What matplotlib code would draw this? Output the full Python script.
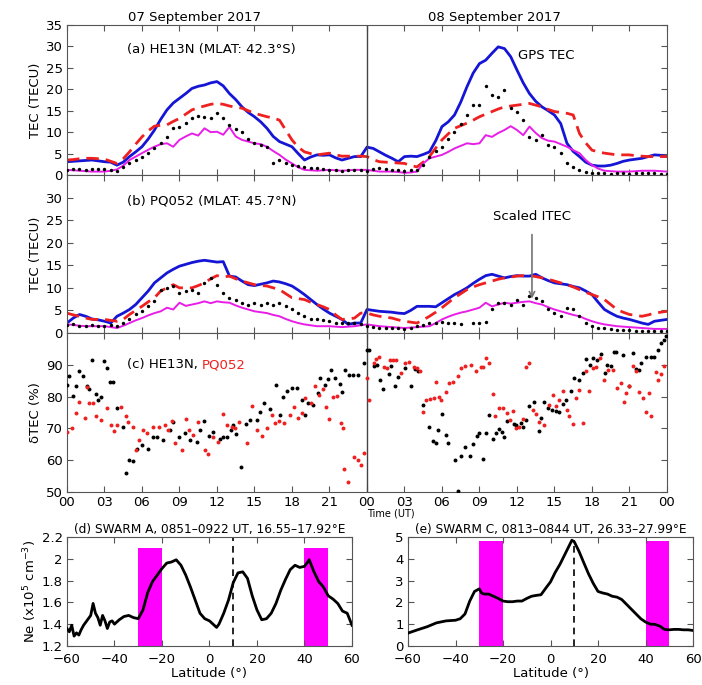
import matplotlib
matplotlib.use("Agg")
import matplotlib.pyplot as plt
import numpy as np

nan = np.nan

# time axis: two days, half-hour steps (hours since 00 UT, 07 Sep 2017)
HOURS = np.arange(0, 48.5, 0.5)
TICK_HOURS = list(range(0, 49, 3))
TICK_LABELS = ["00", "03", "06", "09", "12", "15", "18", "21",
               "00", "03", "06", "09", "12", "15", "18", "21", "00"]

# ---- panel (a): HE13N ----
A_GPS = [3.1, 3.2, 3.3, 3.4, 3.5, 3.3, 3.1, 3.0, 2.3, 3.0, 4.3, 5.4,
         6.6, 8.4, 10.5, 13.0, 15.2, 16.8, 17.9, 19.0, 20.2, 20.7, 21.0, 21.5,
         21.8, 20.8, 19.0, 17.6, 15.9, 14.6, 13.6, 12.4, 10.9, 9.0, 7.8, 7.2,
         6.6, 5.0, 3.5, 4.2, 4.7, 4.6, 4.7, 4.0, 3.5, 3.9, 4.3, 4.3,
         6.5, 6.2, 5.4, 4.6, 3.9, 3.1, 4.3, 4.4, 4.3, 4.8, 5.4, 8.0,
         11.3, 12.4, 14.0, 17.0, 20.6, 23.8, 26.0, 26.8, 28.4, 29.9, 29.5, 27.6,
         24.5, 21.5, 19.0, 17.2, 15.9, 15.0, 14.0, 12.0, 7.4, 5.5, 4.3, 3.0,
         2.3, 2.1, 2.1, 2.3, 2.7, 3.2, 3.5, 3.7, 3.9, 4.3, 4.7, 4.6, 4.3]
A_MODEL = [3.5, 3.6, 3.8, 3.9, 3.9, 3.8, 3.7, 3.2, 2.7, 3.8, 5.4, 7.2,
           8.9, 10.3, 11.4, 11.6, 11.7, 12.5, 13.2, 14.2, 15.2, 15.7, 16.1, 16.5,
           16.7, 16.5, 16.1, 15.8, 15.6, 15.0, 14.4, 14.0, 13.6, 13.3, 12.8, 10.5,
           8.2, 6.5, 5.4, 5.0, 4.7, 4.9, 5.1, 4.7, 4.4, 4.4, 4.4, 4.4,
           4.3, 3.6, 3.1, 3.0, 2.9, 2.8, 2.7, 2.2, 1.9, 3.0, 4.3, 6.3,
           8.2, 9.6, 10.9, 11.5, 12.1, 12.8, 13.6, 14.2, 14.8, 15.4, 15.9, 16.1,
           16.3, 16.5, 16.7, 16.3, 15.9, 15.3, 14.8, 14.6, 14.4, 14.0, 9.7, 7.5,
           5.8, 5.4, 5.1, 4.9, 4.7, 4.7, 4.7, 4.5, 4.4, 4.3, 4.3, 4.3, 4.3]
A_MAG = [1.2, 1.1, 1.0, 0.9, 0.8, 0.8, 0.8, 1.0, 1.3, 2.2, 3.5, 4.3,
         5.1, 5.9, 6.6, 7.2, 7.4, 6.6, 8.2, 9.0, 9.7, 9.2, 10.9, 10.0,
         10.1, 9.4, 11.2, 9.0, 8.2, 7.8, 7.4, 7.2, 6.6, 5.6, 4.7, 3.6,
         2.7, 1.8, 1.2, 1.1, 1.0, 1.1, 1.2, 1.1, 1.0, 1.1, 1.2, 1.2,
         1.2, 1.0, 0.8, 0.8, 0.8, 0.7, 0.5, 0.6, 0.8, 2.7, 3.9, 4.3,
         4.7, 5.4, 6.2, 6.8, 7.4, 7.2, 7.4, 9.3, 8.9, 9.8, 10.5, 11.4,
         10.5, 9.3, 11.3, 9.8, 8.6, 8.0, 7.8, 7.2, 6.6, 5.8, 5.1, 3.5,
         2.3, 1.5, 1.0, 0.9, 0.8, 0.8, 0.8, 0.9, 1.0, 1.0, 1.0, 0.9, 0.8]
A_DOTS = [1.2, 1.3, 1.5, 1.2, 1.4, 1.5, 1.3, 1.2, 1.0, 1.9, 2.7, 3.5,
          4.3, 5.2, 6.2, 7.5, 8.9, 11.0, 11.3, 12.2, 13.2, 13.8, 13.6, 13.2,
          14.4, 13.2, 11.7, 10.8, 10.1, 8.5, 7.4, 7.0, 6.6, 2.7, 3.5, 2.8,
          2.3, 2.0, 1.9, 1.7, 1.6, 1.4, 1.2, 1.1, 1.0, 1.1, 1.2, 1.1,
          1.0, 1.3, 1.6, 1.4, 1.2, 1.1, 1.0, 1.1, 1.2, 2.3, 4.3, 5.5,
          6.6, 8.5, 10.1, 12.0, 14.0, 16.3, 16.3, 20.8, 18.7, 18.3, 19.8, 15.6,
          14.8, 12.8, 8.9, 8.2, 9.3, 7.0, 6.6, 5.1, 2.7, 1.8, 1.2, 0.8,
          0.5, 0.4, 0.4, 0.3, 0.4, 0.4, 0.3, 0.4, 0.4, 0.5, 0.4, 0.3, 0.3]

# ---- panel (b): PQ052 ----
B_GPS = [2.2, 3.3, 4.1, 3.7, 3.1, 2.9, 2.6, 2.2, 3.7, 4.4, 5.2, 6.3,
         7.8, 9.3, 11.1, 12.2, 13.3, 14.1, 14.8, 15.2, 15.6, 15.9, 16.1, 15.9,
         15.7, 15.8, 12.6, 12.4, 11.5, 10.7, 10.5, 10.8, 11.1, 11.5, 11.3, 10.9,
         10.4, 9.5, 8.5, 7.4, 6.3, 5.3, 4.4, 3.7, 3.0, 1.9, 2.2, 2.2,
         5.2, 5.0, 4.8, 4.7, 4.6, 4.4, 4.3, 5.0, 5.9, 5.9, 5.9, 5.8,
         6.7, 7.6, 8.5, 9.2, 10.0, 11.0, 11.9, 12.7, 13.0, 12.6, 12.2, 12.5,
         12.7, 12.6, 12.6, 13.0, 12.2, 11.6, 11.1, 10.9, 10.7, 10.3, 10.0, 9.3,
         8.5, 6.8, 5.2, 4.4, 3.7, 3.3, 3.0, 2.6, 2.2, 1.9, 2.6, 2.8, 3.0]
B_MODEL = [4.4, 4.0, 3.7, 3.3, 3.0, 3.0, 3.0, 2.8, 2.6, 3.0, 4.1, 5.0,
           5.9, 6.9, 7.8, 9.3, 10.0, 10.7, 10.0, 10.0, 10.0, 10.5, 11.1, 12.0,
           12.7, 12.4, 12.6, 12.0, 11.5, 11.1, 10.7, 10.5, 10.4, 10.0, 9.6, 8.7,
           7.8, 7.6, 7.4, 6.8, 6.3, 5.8, 5.2, 4.0, 3.0, 3.1, 3.3, 4.4,
           4.4, 4.0, 3.7, 3.5, 3.3, 2.9, 2.6, 2.4, 2.2, 2.9, 3.7, 4.6,
           5.6, 6.7, 7.8, 8.7, 9.6, 10.2, 10.7, 11.1, 11.5, 11.9, 12.2, 12.4,
           12.6, 12.7, 12.7, 12.5, 12.2, 11.9, 11.5, 11.1, 10.7, 10.2, 9.6, 9.0,
           8.5, 8.0, 7.4, 6.3, 5.2, 4.6, 4.1, 3.9, 3.7, 4.0, 4.4, 4.6, 4.8]
B_MAG = [1.9, 1.8, 1.6, 1.5, 1.5, 1.5, 1.5, 1.3, 1.1, 1.6, 2.2, 2.8,
         3.3, 3.9, 4.4, 4.8, 5.6, 5.2, 6.7, 6.0, 6.3, 6.6, 7.0, 6.6,
         7.0, 6.8, 6.7, 6.1, 5.6, 5.2, 4.8, 4.6, 4.4, 4.0, 3.7, 3.1,
         2.6, 2.2, 1.9, 1.7, 1.5, 1.5, 1.5, 1.4, 1.3, 1.4, 1.5, 1.7,
         1.9, 1.7, 1.5, 1.4, 1.3, 1.2, 1.1, 1.2, 1.3, 1.4, 1.5, 2.2,
         3.0, 3.6, 4.1, 4.5, 4.8, 5.2, 5.6, 6.7, 5.9, 6.3, 6.7, 6.5,
         6.7, 6.9, 7.0, 6.6, 6.3, 5.7, 5.2, 4.8, 4.4, 4.0, 3.7, 3.1,
         2.6, 2.2, 1.9, 1.7, 1.5, 1.4, 1.3, 1.2, 1.1, 1.0, 0.9, 0.9, 0.9]
B_DOTS = [1.7, 1.9, 1.6, 1.5, 1.8, 1.6, 1.5, 1.7, 1.6, 2.2, 3.0, 4.1,
          4.8, 5.9, 7.0, 9.6, 10.0, 10.4, 8.9, 9.3, 9.6, 8.9, 11.1, 12.2,
          10.7, 8.9, 7.8, 7.4, 6.7, 6.3, 6.7, 6.3, 6.7, 6.1, 6.7, 5.9,
          5.2, 4.4, 3.7, 3.1, 3.0, 2.8, 2.6, 2.2, 2.2, 2.1, 2.2, 1.9,
          1.5, 1.3, 1.1, 1.1, 1.1, 1.0, 0.9, 1.2, 1.5, 1.8, 2.1, 2.3,
          2.4, 2.2, 2.1, 1.9, nan, 2.2, 2.2, 2.4, 5.2, 6.7, 6.7, 6.3,
          7.4, 6.3, 8.1, 7.8, 7.0, 5.2, 4.4, 3.7, 5.6, 5.2, 3.7, 2.2,
          1.5, 1.2, 1.1, 0.9, 0.7, 0.6, 0.6, 0.5, 0.5, 0.5, 0.5, 0.5, 0.4]

# ---- panel (c): dTEC (%) ----
C_HE_HOURS = [0.0, 0.2, 0.45, 0.7, 1.0, 1.25, 1.6, 1.8, 2.0, 2.3, 2.5, 2.7,
              3.0, 3.2, 3.45, 3.65, 4.0, 4.45, 4.7, 5.0, 5.25, 5.6, 6.0, 6.5,
              6.85, 7.2, 7.65, 8.25, 8.5, 9.0, 9.45, 9.85, 10.4, 10.65, 10.95, 11.4,
              11.7, 12.25, 12.5, 12.8, 13.1, 13.3, 13.5, 13.95, 14.3, 14.65, 15.2, 15.45,
              15.75, 16.25, 16.7, 17.05, 17.3, 17.6, 18.0, 18.4, 18.8, 19.05, 19.3, 19.7,
              20.1, 20.25, 20.65, 20.9, 21.15, 21.45, 21.85, 22.0, 22.25, 22.6, 22.9, 23.3,
              23.75, 24.0, 24.2, 24.55, 24.8, 25.05, 25.25, 25.8, 25.95, 26.25, 26.5, 27.05,
              27.5, 27.85, 28.1, 28.45, 29.0, 29.25, 29.5, 29.7, 29.97, 30.3, 30.5, 31.05,
              31.25, 31.5, 31.85, 32.25, 32.5, 32.8, 33.0, 33.3, 33.55, 33.8, 34.05, 34.3,
              34.6, 34.8, 35.0, 35.2, 35.75, 35.95, 36.3, 36.5, 36.7, 37.0, 37.35, 37.8,
              37.95, 38.2, 38.5, 38.8, 39.1, 39.4, 39.7, 39.95, 40.3, 40.55, 41.0, 41.3,
              41.55, 41.85, 42.05, 42.4, 42.7, 43.05, 43.2, 43.5, 43.75, 43.95, 44.45, 44.95,
              45.3, 45.55, 45.75, 45.95, 46.35, 46.75, 47.0, 47.3, 47.55, 47.75, 47.9]
C_HE_VALS = [83.7, 86.5, 80.2, 83.2, 87.9, 86.5, 83.2, 82.3, 91.6, 80.8, 78.9, 80.0,
             91.3, 89.0, 84.7, 84.5, 76.3, 70.3, 56.0, 60.2, 59.8, 63.6, 64.7, 63.4,
             67.2, 67.4, 66.3, 69.5, 72.1, 67.4, 68.4, 66.3, 65.8, 69.5, 72.4, 67.6,
             68.9, 66.8, 67.2, 67.2, 69.5, 71.1, 68.2, 57.9, 71.5, 72.6, 72.6, 75.3,
             78.1, 76.0, 83.7, 74.2, 80.0, 81.6, 82.6, 82.6, 78.9, 74.2, 77.9, 77.4,
             81.1, 85.8, 83.7, 85.5, 88.4, 85.8, 84.0, 81.3, 88.4, 86.8, 86.8, 86.8,
             90.5, 94.5, 94.5, 89.5, 90.0, 85.3, 82.3, 87.2, 89.7, 83.4, 86.3, 88.9,
             83.4, 88.6, 87.9, 77.4, 70.5, 66.1, 65.3, 69.5, 74.5, 67.9, 65.5, 60.2,
             50.2, 61.3, 64.0, 61.3, 65.1, 67.6, 68.6, 60.5, 68.6, 74.2, 66.8, 68.6,
             69.7, 68.9, 67.2, 72.4, 71.4, 71.1, 71.8, 70.5, 72.6, 77.1, 78.4, 69.3,
             73.2, 78.4, 76.3, 75.8, 75.6, 75.3, 77.7, 78.9, 81.9, 85.8, 85.3, 87.4,
             91.8, 90.0, 92.1, 91.4, 93.5, 87.4, 90.0, 89.5, 93.9, 93.9, 93.2, 83.2,
             93.7, 88.6, 88.4, 90.7, 92.4, 92.4, 92.4, 94.7, 96.8, 97.9, 98.9]
C_PQ_HOURS = [0.0, 0.37, 0.7, 1.0, 1.45, 1.6, 1.8, 2.05, 2.35, 2.75, 3.2, 3.55,
              3.75, 4.0, 4.3, 4.7, 4.9, 5.25, 5.5, 5.8, 6.1, 6.4, 6.9, 7.4,
              7.85, 8.1, 8.4, 8.65, 9.2, 9.5, 9.8, 10.1, 10.5, 11.05, 11.3, 11.7,
              12.1, 12.45, 12.8, 13.2, 13.45, 13.8, 14.4, 14.8, 15.2, 15.6, 16.0, 16.4,
              16.65, 17.0, 17.35, 17.85, 18.15, 18.5, 18.8, 19.05, 19.5, 19.85, 20.2, 20.45,
              20.7, 21.0, 21.25, 21.6, 21.9, 22.1, 22.2, 22.5, 23.0, 23.3, 23.5, 23.75,
              23.97, 24.2, 24.55, 24.75, 24.95, 25.35, 25.6, 25.85, 26.05, 26.35, 26.7, 27.05,
              27.4, 27.75, 28.0, 28.25, 28.45, 28.7, 29.05, 29.35, 29.5, 29.75, 29.95, 30.3,
              30.6, 30.9, 31.3, 31.55, 31.85, 32.35, 32.75, 33.1, 33.3, 33.5, 33.8, 34.05,
              34.25, 34.6, 34.9, 35.2, 35.45, 35.7, 35.95, 36.2, 36.45, 36.75, 37.0, 37.3,
              37.55, 37.8, 38.2, 38.55, 38.9, 39.1, 39.35, 39.7, 40.0, 40.2, 40.5, 40.75,
              41.0, 41.3, 41.5, 41.8, 42.05, 42.35, 42.65, 42.95, 43.3, 43.7, 44.0, 44.3,
              44.55, 44.75, 45.0, 45.3, 45.5, 45.8, 46.1, 46.3, 46.55, 46.75, 47.1, 47.3,
              47.55, 47.8]
C_PQ_VALS = [69.0, 70.0, 74.9, 78.4, 73.2, 83.0, 77.9, 78.1, 73.9, 72.6, 76.3, 71.1,
             69.3, 71.1, 76.8, 73.9, 72.1, 70.3, 63.2, 66.5, 69.5, 68.4, 70.5, 70.5,
             71.1, 69.5, 72.4, 65.3, 63.2, 72.8, 69.5, 67.9, 72.1, 63.2, 61.9, 67.4,
             65.8, 74.5, 71.1, 70.5, 70.0, 72.1, 65.3, 77.1, 69.5, 67.6, 70.0, 74.2,
             71.8, 72.4, 71.6, 74.2, 76.6, 73.2, 74.9, 79.5, 78.1, 83.4, 80.5, 82.3,
             76.6, 72.8, 80.0, 80.2, 71.8, 70.0, 57.2, 53.0, 61.0, 60.0, 58.4, 62.3,
             85.8, 78.9, 90.5, 91.8, 92.4, 89.3, 88.9, 91.4, 91.6, 91.6, 87.4, 90.5,
             91.0, 89.3, 88.9, 87.9, 75.3, 78.9, 79.2, 79.5, 84.7, 79.8, 78.9, 81.3,
             84.2, 84.7, 86.5, 88.9, 89.5, 90.0, 87.9, 89.3, 89.3, 92.1, 90.5, 80.8,
             73.9, 76.3, 76.3, 74.7, 72.6, 75.6, 70.0, 70.5, 72.8, 89.3, 90.5, 75.8,
             74.5, 72.1, 71.1, 77.4, 80.4, 77.1, 78.9, 81.8, 75.8, 73.9, 71.4, 79.5,
             82.1, 71.6, 87.9, 81.7, 88.9, 89.3, 92.1, 85.3, 88.4, 88.4, 82.6, 84.2,
             78.4, 81.1, 83.2, 89.5, 87.9, 81.3, 79.5, 75.3, 81.1, 73.9, 87.6, 85.1,
             87.2, 89.7]

# ---- panels (d), (e): SWARM electron density ----
D_LAT = [-60, -59, -58, -57, -56, -55, -54, -53, -52, -51, -50, -49, -48, -47,
         -46, -45, -44, -43, -42, -41, -40, -38, -36, -34, -32, -30, -28, -26,
         -24, -22, -20, -18, -16, -14, -12, -10, -8, -6, -4, -2, 0, 2, 3, 4,
         6, 8, 10, 12, 14, 16, 18, 20, 22, 24, 26, 28, 30, 32, 34, 36, 38, 40,
         42, 44, 46, 48, 50, 52, 54, 56, 58, 60]
D_NE = [1.36, 1.33, 1.39, 1.29, 1.32, 1.30, 1.35, 1.39, 1.42, 1.45, 1.48, 1.59, 1.50, 1.46,
        1.39, 1.48, 1.43, 1.36, 1.42, 1.43, 1.40, 1.44, 1.47, 1.48, 1.46, 1.45, 1.53, 1.69,
        1.79, 1.85, 1.91, 1.96, 1.97, 1.99, 1.94, 1.85, 1.74, 1.62, 1.50, 1.45, 1.43, 1.39, 1.37, 1.40,
        1.50, 1.62, 1.78, 1.87, 1.88, 1.82, 1.66, 1.53, 1.44, 1.45, 1.50, 1.59, 1.71, 1.81,
        1.90, 1.94, 1.92, 1.93, 1.99, 1.88, 1.79, 1.74, 1.66, 1.63, 1.59, 1.52, 1.50, 1.39]
E_LAT = [-60, -56, -52, -48, -44, -40, -38, -36, -34, -32, -30, -29, -28, -26,
         -24, -22, -20, -18, -16, -14, -12, -10, -8, -6, -4, -2, 0, 2,
         4, 6, 8, 9, 10, 12, 14, 16, 18, 20, 22, 24, 26, 28, 30, 32,
         34, 36, 38, 40, 42, 44, 46, 48, 50, 52, 54, 56, 58, 60]
E_NE = [0.59, 0.74, 0.88, 1.06, 1.15, 1.18, 1.25, 1.47, 2.06, 2.50, 2.62, 2.43, 2.38, 2.38,
        2.28, 2.18, 2.06, 2.03, 2.03, 2.06, 2.06, 2.18, 2.28, 2.32, 2.35, 2.65, 2.94, 3.38,
        3.75, 4.19, 4.63, 4.85, 4.78, 4.34, 3.82, 3.31, 2.87, 2.50, 2.43, 2.38, 2.28, 2.24, 2.13, 1.91,
        1.69, 1.47, 1.25, 1.10, 1.00, 0.99, 0.91, 0.76, 0.74, 0.76, 0.76, 0.74, 0.74, 0.71]
BANDS = [(-30, -20), (40, 50)]
EIA_LAT = 10

BLUE = "#1515d5"
RED = "#ee2020"
MAGENTA = "#e81ee8"
FRAME = "#555555"
FS = 9.5


def style(ax):
    for sp in ax.spines.values():
        sp.set_color(FRAME)
        sp.set_linewidth(0.8)
    ax.tick_params(direction="in", top=True, right=True, length=4, width=0.8,
                   color=FRAME, labelsize=FS, pad=3)


def tec_panel(ax, gps, model, mag, dots, label):
    ax.plot(HOURS, gps, color=BLUE, lw=2)
    ax.plot(HOURS, model, color=RED, lw=2, dashes=(4.5, 2.5))
    ax.plot(HOURS, mag, color=MAGENTA, lw=1.4)
    ax.scatter(HOURS, dots, s=6, color="k", zorder=3, linewidths=0)
    ax.axvline(24, color="#444444", lw=1)
    ax.set_xlim(0, 48)
    ax.set_ylim(0, 35)
    ax.set_xticks(TICK_HOURS)
    ax.set_xticklabels([])
    ax.set_ylabel("TEC (TECU)", fontsize=FS, labelpad=3)
    ax.text(4.8, 29.3, label, fontsize=FS, va="center")
    style(ax)


fig = plt.figure(figsize=(7.02, 6.85), dpi=100)
ax_a = fig.add_axes([0.0954, 0.7445, 0.8547, 0.2190])
ax_b = fig.add_axes([0.0954, 0.5139, 0.8547, 0.2307])
ax_c = fig.add_axes([0.0954, 0.2818, 0.8547, 0.2321])
ax_d = fig.add_axes([0.0954, 0.0570, 0.4060, 0.1592])
ax_e = fig.add_axes([0.5812, 0.0570, 0.4060, 0.1591])

tec_panel(ax_a, A_GPS, A_MODEL, A_MAG, A_DOTS, "(a) HE13N (MLAT: 42.3°S)")
ax_a.set_yticks(range(0, 36, 5))
ax_a.text(36.1, 28, "GPS TEC", fontsize=FS, va="center")
for h, day in [(10.2, "07 September 2017"), (34.2, "08 September 2017")]:
    ax_a.text(h, 1.01, day, transform=ax_a.get_xaxis_transform(),
              ha="center", va="bottom", fontsize=FS)

tec_panel(ax_b, B_GPS, B_MODEL, B_MAG, B_DOTS, "(b) PQ052 (MLAT: 45.7°N)")
ax_b.set_yticks(range(0, 31, 5))
ax_b.annotate("Scaled ITEC", xy=(37.2, 7.6), xytext=(37.2, 25.7),
              ha="center", va="center", fontsize=FS,
              arrowprops=dict(arrowstyle="->", color="0.45", lw=1.2,
                              shrinkA=6, shrinkB=0))

# panel (c)
ax_c.scatter(C_HE_HOURS, C_HE_VALS, s=8, color="k", linewidths=0, zorder=3)
ax_c.scatter(C_PQ_HOURS, C_PQ_VALS, s=8, color=RED, linewidths=0, zorder=3)
ax_c.axvline(24, color="#444444", lw=1)
ax_c.set_xlim(0, 48)
ax_c.set_ylim(50, 100)
ax_c.set_yticks(range(50, 91, 10))
ax_c.set_xticks(TICK_HOURS)
ax_c.set_xticklabels(TICK_LABELS)
ax_c.set_ylabel("δTEC (%)", fontsize=FS, labelpad=3)
t1 = ax_c.text(4.8, 90, "(c) HE13N, ", fontsize=FS, va="center")
ax_c.annotate("PQ052", xy=(1, 0.5), xycoords=t1, va="center", fontsize=FS, color=RED)
ax_c.text(25.9, -0.135, "Time (UT)", transform=ax_c.get_xaxis_transform(),
          ha="center", va="center", fontsize=7)
style(ax_c)

# panels (d), (e)
for ax, lat, ne, top, title in [
        (ax_d, D_LAT, D_NE, 2.1, "(d) SWARM A, 0851–0922 UT, 16.55–17.92°E"),
        (ax_e, E_LAT, E_NE, 4.8, "(e) SWARM C, 0813–0844 UT, 26.33–27.99°E")]:
    for b0, b1 in BANDS:
        ax.fill_between([b0, b1], 0, top, color="#ff00ff", lw=0, zorder=1)
    ax.plot(lat, ne, color="k", lw=2, zorder=3)
    ax.set_xlim(-60, 60)
    ax.set_xticks(range(-60, 61, 20))
    ax.set_xticklabels(["−60", "−40", "−20", "0", "20", "40", "60"])
    ax.set_xlabel("Latitude (°)", fontsize=FS, labelpad=0.5)
    ax.set_title(title, fontsize=8.7, pad=3)
    style(ax)
    ax.tick_params(axis="x", pad=5)

ax_d.set_ylim(1.2, 2.2)
ax_d.set_yticks([1.2, 1.4, 1.6, 1.8, 2.0, 2.2])
ax_d.set_yticklabels(["1.2", "1.4", "1.6", "1.8", "2", "2.2"])
ax_d.axvline(EIA_LAT, color="k", lw=1.2, ls=(0, (4, 3)), zorder=2)
ax_d.set_ylabel("Ne (x10$^5$ cm$^{-3}$)", fontsize=FS, labelpad=2)

ax_e.set_ylim(0, 5)
ax_e.set_yticks(range(0, 6))
ax_e.plot([EIA_LAT, EIA_LAT], [0, 4.85], color="k", lw=1.2, ls=(0, (4, 3)), zorder=2)

fig.savefig("out.png", dpi=100)
